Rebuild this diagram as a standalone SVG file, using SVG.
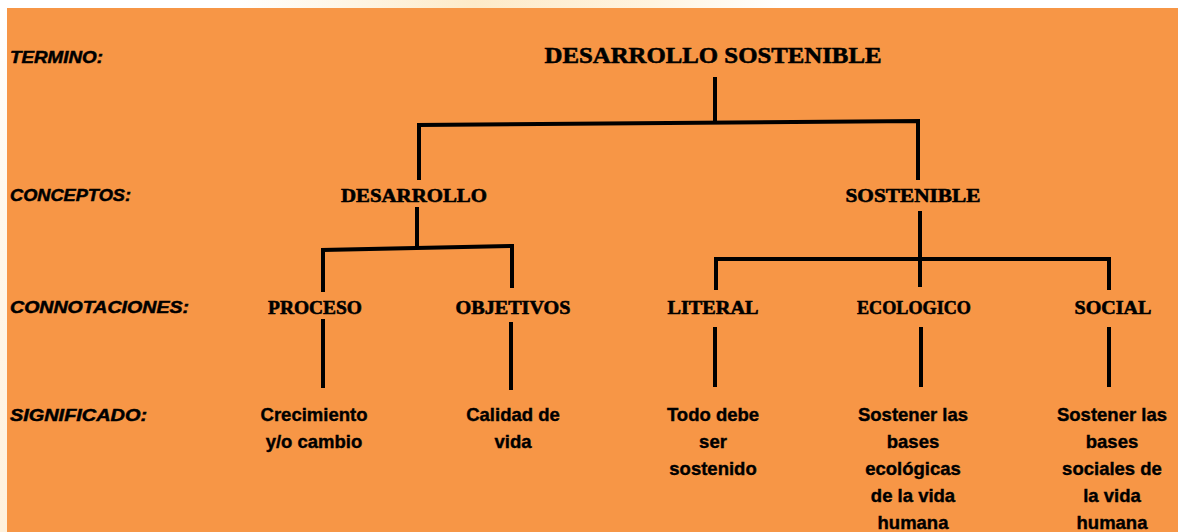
<svg xmlns="http://www.w3.org/2000/svg" width="1186" height="532" viewBox="0 0 1186 532">
<defs>
<linearGradient id="topg" x1="0" y1="0" x2="1" y2="0">
<stop offset="0" stop-color="#ffffff"/>
<stop offset="0.2" stop-color="#ffffff"/>
<stop offset="0.4" stop-color="#fdebc9"/>
<stop offset="0.55" stop-color="#fff4e0"/>
<stop offset="0.66" stop-color="#ffffff"/>
<stop offset="1" stop-color="#ffffff"/>
</linearGradient>
<linearGradient id="leftg" x1="0" y1="0" x2="0" y2="1">
<stop offset="0" stop-color="#ffffff"/>
<stop offset="0.4" stop-color="#fff8ec"/>
<stop offset="1" stop-color="#fff1dc"/>
</linearGradient>
</defs>
<style>
.lbl{font-family:"Liberation Sans",Arial,sans-serif;font-weight:bold;font-style:italic;font-size:17px;fill:#000;stroke:#000;stroke-width:0.5}
.hd{font-family:"Liberation Serif","DejaVu Serif",serif;font-weight:bold;fill:#000;text-anchor:middle;stroke:#000;stroke-width:0.6}
.h1{font-size:24px}
.h2{font-size:19px}
.sig{font-family:"Liberation Sans",Arial,sans-serif;font-weight:bold;font-size:18.5px;fill:#000;text-anchor:middle;stroke:#000;stroke-width:0.4}
.ln{stroke:#000;stroke-width:4;fill:none;stroke-linejoin:miter}
</style>
<rect x="0" y="0" width="1186" height="532" fill="#ffffff"/>
<rect x="0" y="0" width="1186" height="8" fill="url(#topg)"/>
<rect x="0" y="8" width="7" height="524" fill="url(#leftg)"/>
<rect x="7" y="8" width="1171" height="524" fill="#f79646"/>

<g id="row-labels">
<text class="lbl" x="10" y="63" textLength="93" lengthAdjust="spacingAndGlyphs">TERMINO:</text>
<text class="lbl" x="10" y="201" textLength="121" lengthAdjust="spacingAndGlyphs">CONCEPTOS:</text>
<text class="lbl" x="10" y="313" textLength="179" lengthAdjust="spacingAndGlyphs">CONNOTACIONES:</text>
<text class="lbl" x="10" y="421" textLength="137" lengthAdjust="spacingAndGlyphs">SIGNIFICADO:</text>
</g>

<g id="connectors">
<path class="ln" d="M715 77 V123"/>
<path class="ln" d="M419 180 V125 L918 121 V180"/>
<path class="ln" d="M417 207 V248"/>
<path class="ln" d="M323 292 V250 L512 246 V288"/>
<path class="ln" d="M920 211 V287"/>
<path class="ln" d="M716 290 V259 H1109 V290"/>
<path class="ln" d="M323 319 V388"/>
<path class="ln" d="M511 322 V390"/>
<path class="ln" d="M715 327 V387"/>
<path class="ln" d="M921 327 V387"/>
<path class="ln" d="M1109 327 V387"/>
</g>

<g id="n-root"><text class="hd h1" x="713" y="63" textLength="337" lengthAdjust="spacingAndGlyphs">DESARROLLO SOSTENIBLE</text></g>
<g id="n-desarrollo"><text class="hd h2" x="414" y="202" textLength="146" lengthAdjust="spacingAndGlyphs">DESARROLLO</text></g>
<g id="n-sostenible"><text class="hd h2" x="913" y="202" textLength="135" lengthAdjust="spacingAndGlyphs">SOSTENIBLE</text></g>
<g id="n-proceso"><text class="hd h2" x="315" y="314" textLength="94" lengthAdjust="spacingAndGlyphs">PROCESO</text></g>
<g id="n-objetivos"><text class="hd h2" x="513" y="314" textLength="115" lengthAdjust="spacingAndGlyphs">OBJETIVOS</text></g>
<g id="n-literal"><text class="hd h2" x="713" y="314" textLength="91" lengthAdjust="spacingAndGlyphs">LITERAL</text></g>
<g id="n-ecologico"><text class="hd h2" x="914" y="314" textLength="114" lengthAdjust="spacingAndGlyphs">ECOLOGICO</text></g>
<g id="n-social"><text class="hd h2" x="1113" y="314" textLength="77" lengthAdjust="spacingAndGlyphs">SOCIAL</text></g>

<g id="s-proceso"><text class="sig" x="314" y="421">Crecimiento</text><text class="sig" x="314" y="448">y/o cambio</text></g>
<g id="s-objetivos"><text class="sig" x="513" y="421">Calidad de</text><text class="sig" x="513" y="448">vida</text></g>
<g id="s-literal"><text class="sig" x="713" y="421">Todo debe</text><text class="sig" x="713" y="448">ser</text><text class="sig" x="713" y="475">sostenido</text></g>
<g id="s-ecologico"><text class="sig" x="913" y="421">Sostener las</text><text class="sig" x="913" y="448">bases</text><text class="sig" x="913" y="475">ecológicas</text><text class="sig" x="913" y="502">de la vida</text><text class="sig" x="913" y="529">humana</text></g>
<g id="s-social"><text class="sig" x="1112" y="421">Sostener las</text><text class="sig" x="1112" y="448">bases</text><text class="sig" x="1112" y="475">sociales de</text><text class="sig" x="1112" y="502">la vida</text><text class="sig" x="1112" y="529">humana</text></g>
</svg>
